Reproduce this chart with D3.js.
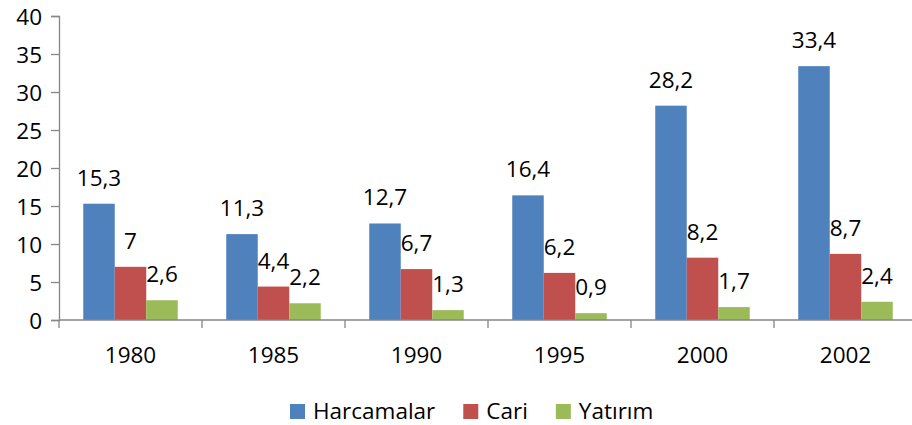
<!DOCTYPE html>
<html><head><meta charset="utf-8">
<script src="https://cdn.jsdelivr.net/npm/d3@7"></script>
<style>body{margin:0;background:#fff}svg{display:block}text{font-family:"Open Sans",sans-serif;font-size:22.5px;fill:#000}</style>
</head><body>
<svg id="c" width="912" height="425"></svg>
<script>
const years = ["1980","1985","1990","1995","2000","2002"];
const seriesNames = ["Harcamalar","Cari","Yatırım"];
const harcamalar = [15.3,11.3,12.7,16.4,28.2,33.4];
const cari = [7,4.4,6.7,6.2,8.2,8.7];
const yatirim = [2.6,2.2,1.3,0.9,1.7,2.4];
const yTicks = [0,5,10,15,20,25,30,35,40];
const colors = ["#4F81BD","#C0504D","#9BBB59"];
const seriesValues = [harcamalar, cari, yatirim];

const svg = d3.select("#c");
const x = d3.scaleBand().domain(years).range([59,917]).padding(0);
const xi = d3.scaleBand().domain(seriesNames).range([0,x.bandwidth()]).paddingInner(0).paddingOuter(0.77);
const y = d3.scaleLinear().domain([0,40]).range([320,16]);
const fmt = v => String(v).replace(".", ",");
const axisColor = "#868686";
const FONT = "'Open Sans',sans-serif";

// y axis
const ya = svg.append("g").attr("transform","translate(59,0)")
  .call(d3.axisLeft(y).tickValues(yTicks).tickSize(8).tickPadding(9).tickFormat(d=>d));
ya.select(".domain").attr("stroke",axisColor).attr("stroke-width",1.3);
ya.selectAll(".tick line").attr("stroke",axisColor).attr("stroke-width",1.3);
ya.selectAll(".tick text").attr("font-size",22.5).attr("font-family",FONT).attr("fill","#000").attr("dy","0.36em");

// bars
const groups = svg.append("g").selectAll("g").data(years).join("g")
  .attr("transform", d => `translate(${x(d)},0)`);
seriesNames.forEach((s, si) => {
  groups.append("rect")
    .attr("x", xi(s))
    .attr("width", xi.bandwidth())
    .attr("y", (d,i) => y(seriesValues[si][i]))
    .attr("height", (d,i) => y(0) - y(seriesValues[si][i]))
    .attr("fill", colors[si]);
  groups.append("text")
    .attr("x", xi(s) + xi.bandwidth()/2)
    .attr("y", (d,i) => y(seriesValues[si][i]) - 18)
    .attr("text-anchor","middle")
    .text((d,i) => fmt(seriesValues[si][i]));
});

// x axis
const xa = svg.append("g").attr("transform","translate(0,320)");
xa.append("line").attr("x1",59).attr("x2",917).attr("stroke",axisColor).attr("stroke-width",1.3);
const bounds = years.map(d => x(d)).concat([x(years[years.length-1]) + x.bandwidth()]);
xa.selectAll("line.t").data(bounds).join("line").attr("class","t")
  .attr("x1",d=>d).attr("x2",d=>d).attr("y1",0).attr("y2",8)
  .attr("stroke",axisColor).attr("stroke-width",1.3);
xa.selectAll("text").data(years).join("text")
  .attr("x", d => x(d) + x.bandwidth()/2).attr("y", 43)
  .attr("text-anchor","middle").text(d=>d);

// legend
const lg = svg.append("g");
let lx = 290;
seriesNames.forEach((s, si) => {
  lg.append("rect").attr("x",lx).attr("y",404).attr("width",15).attr("height",15).attr("fill",colors[si]);
  const t = lg.append("text").attr("x",lx+23).attr("y",419).text(s);
  lx = lx + 23 + t.node().getComputedTextLength() + 28;
});
</script>
</body></html>
